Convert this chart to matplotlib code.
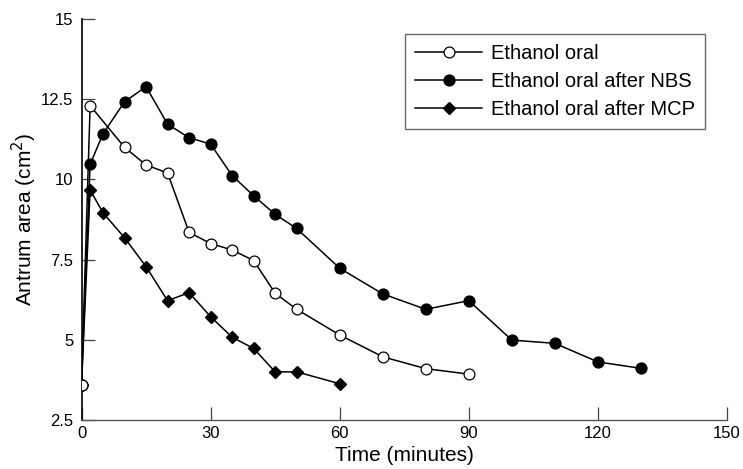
import matplotlib.pyplot as plt

plt.rcParams['font.family'] = ['Liberation Sans', 'DejaVu Sans']

# ---- data (minutes, cm^2) ----
t_oral = [0, 2, 10, 15, 20, 25, 30, 35, 40, 45, 50, 60, 70, 80, 90]
v_oral = [3.6, 12.3, 11.0, 10.45, 10.2, 8.35, 8.0, 7.8, 7.47, 6.45, 5.95, 5.15, 4.47, 4.1, 3.93]

t_nbs = [0, 2, 5, 10, 15, 20, 25, 30, 35, 40, 45, 50, 60, 70, 80, 90, 100, 110, 120, 130]
v_nbs = [3.6, 10.47, 11.42, 12.42, 12.89, 11.72, 11.3, 11.1, 10.12, 9.49, 8.91, 8.47,
         7.23, 6.43, 5.95, 6.22, 4.99, 4.89, 4.31, 4.11]

t_mcp = [0, 2, 5, 10, 15, 20, 25, 30, 35, 40, 45, 50, 60]
v_mcp = [3.6, 9.67, 8.96, 8.18, 7.28, 6.22, 6.47, 5.72, 5.08, 4.73, 4.0, 4.0, 3.63]

labels = ["Ethanol oral", "Ethanol oral after NBS", "Ethanol oral after MCP"]
xticks = [0, 30, 60, 90, 120, 150]
yticks = [2.5, 5, 7.5, 10, 12.5, 15]
ytick_labels = ["2.5", "5", "7.5", "10", "12.5", "15"]

fig = plt.figure(figsize=(7.43, 4.69), dpi=100)
ax = fig.add_axes([0.1097, 0.1045, 0.8688, 0.855])

ax.plot(t_oral, v_oral, color="black", lw=1.1, marker="o", ms=7.8,
        mfc="white", mec="black", mew=0.9, label=labels[0], zorder=4)
ax.plot(t_nbs, v_nbs, color="black", lw=1.1, marker="o", ms=7.8,
        mfc="black", mec="black", label=labels[1], zorder=3)
ax.plot(t_mcp, v_mcp, color="black", lw=1.1, marker="D", ms=6.6,
        mfc="black", mec="black", label=labels[2], zorder=3)

ax.set_xlim(0, 150)
ax.set_ylim(2.5, 15)
ax.set_xticks(xticks)
ax.set_yticks(yticks)
ax.set_yticklabels(ytick_labels)
ax.spines["top"].set_visible(False)
ax.spines["right"].set_visible(False)
ax.spines["left"].set_linewidth(1.2)
ax.spines["bottom"].set_linewidth(1.0)
ax.spines["bottom"].set_color("#555555")
ax.tick_params(direction="in", length=9.5, width=0.9, labelsize=12, colors="black")
ax.tick_params(axis="x", color="#444444", pad=4)
ax.tick_params(axis="y", color="#444444", pad=6)

ax.set_xlabel("Time (minutes)", fontsize=15, labelpad=4)
ax.set_ylabel("Antrum area (cm$^2$)", fontsize=15, labelpad=1)

leg = ax.legend(loc="upper right", bbox_to_anchor=(0.966, 0.9626), borderaxespad=0,
                fontsize=14.5, handlelength=3.3, frameon=True, fancybox=False,
                borderpad=0.5, labelspacing=0.45, handletextpad=0.45)
leg.get_frame().set_edgecolor("#444444")
leg.get_frame().set_linewidth(1.0)

plt.savefig("out.png", dpi=100)
